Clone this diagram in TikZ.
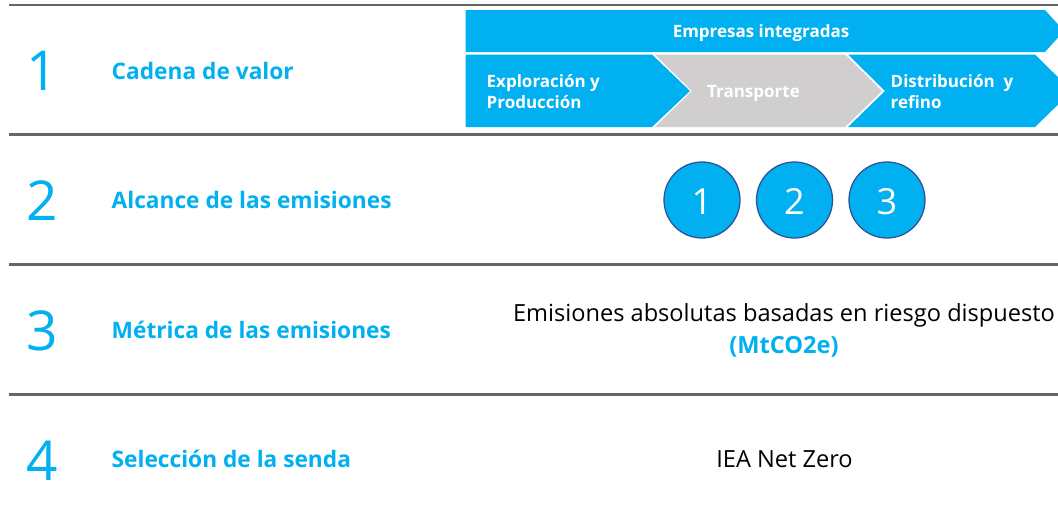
\documentclass[tikz,border=0pt]{standalone}
\usepackage{fontspec}
\setmainfont{Open Sans}
\definecolor{azul}{HTML}{00B0F0}
\definecolor{gris}{HTML}{D0CECE}
\definecolor{linea}{HTML}{666666}
\definecolor{borde}{HTML}{2F5597}
\newcommand{\badgenum}[1]{\raisebox{-14.5pt}[0pt][0pt]{#1}}
\tikzset{
  x=1pt,y=-1pt,
  rowline/.style={draw=linea,line width=2.4pt},
  thinrow/.style={draw=linea,line width=1.1pt},
  rownum/.style={text=azul,font=\fontsize{55}{55}\selectfont,inner sep=0pt,anchor=center},
  rowlabel/.style={text=azul,font=\fontsize{22.7}{22.7}\selectfont\bfseries,inner sep=0pt,anchor=west},
  chevtext/.style={text=white,font=\fontsize{17}{20.5}\selectfont\bfseries,inner sep=0pt,align=left,anchor=west},
  badge/.style={circle,draw=borde,fill=azul,line width=1.3pt,minimum size=76pt,inner sep=0pt,text=white,font=\fontsize{36}{36}\selectfont},
  bodytext/.style={text=black,font=\fontsize{23.6}{32}\selectfont,inner sep=0pt,align=center,anchor=center},
}
\begin{document}
\begin{tikzpicture}
\useasboundingbox (0,0) rectangle (1058,522);
\clip (0,0) rectangle (1058,522);
\fill[white] (0,0) rectangle (1058,522);
% rules
\draw[thinrow] (9,5) -- (1058,5);
\draw[rowline] (9,134.5) -- (1058,134.5);
\draw[rowline] (9,264.5) -- (1058,264.5);
\draw[rowline] (9,394.5) -- (1058,394.5);
% chevrons
\fill[azul] (465.5,10) -- (1045,10) -- (1064,31) -- (1045,52) -- (465.5,52) -- cycle;
\fill[azul] (465.5,54.5) -- (652,54.5) -- (690,91) -- (652,127) -- (465.5,127) -- cycle;
\fill[gris] (655,54.5) -- (845,54.5) -- (882,91) -- (845,127) -- (655,127) -- (692,91) -- cycle;
\fill[azul] (848,54.5) -- (1035,54.5) -- (1072,91) -- (1035,127) -- (848,127) -- (885,91) -- cycle;
\node[chevtext,anchor=center] (emp) at (761,33) {Empresas integradas};
\node[chevtext] (exp) at (486.5,91.5) {Exploración y\\Producción};
\node[chevtext,anchor=center] (tra) at (753.5,93) {Transporte};
\node[chevtext] (dis) at (890.5,91.5) {Distribución\ \ y\\refino};
% numbers
\node[rownum] (n1) at (42,71) {1};
\node[rownum] (n2) at (42,201) {2};
\node[rownum] (n3) at (42,331) {3};
\node[rownum] (n4) at (42,461) {4};
% labels
\node[rowlabel] (l1) at (111.5,71) {Cadena de valor};
\node[rowlabel] (l2) at (111.5,200) {Alcance de las emisiones};
\node[rowlabel] (l3) at (111.5,330) {Métrica de las emisiones};
\node[rowlabel] (l4) at (111.5,459) {Selección de la senda};
% badges
\node[badge] (b1) at (702,200) {\badgenum{1}};
\node[badge] (b2) at (794.5,200) {\badgenum{2}};
\node[badge] (b3) at (887,200) {\badgenum{3}};
% body
\node[bodytext] (metric) at (784,330) {Emisiones absolutas basadas en riesgo dispuesto\\{\color{azul}\bfseries (MtCO2e)}};
\node[bodytext] (iea) at (784.5,459) {IEA Net Zero};
\end{tikzpicture}
\end{document}
